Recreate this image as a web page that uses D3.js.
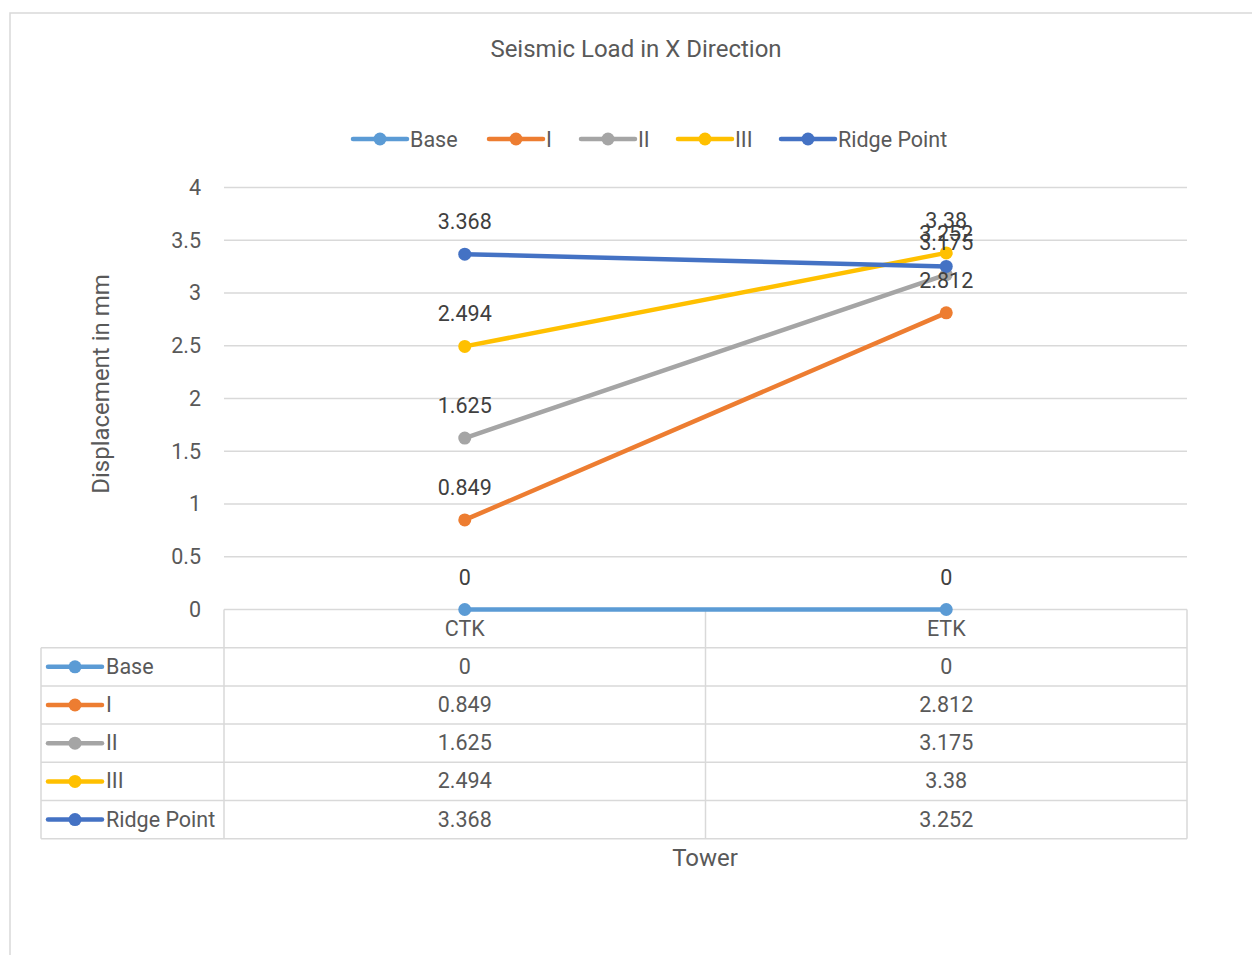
<!DOCTYPE html>
<html><head><meta charset="utf-8">
<script src="https://cdn.jsdelivr.net/npm/d3@7"></script>
<style>
body{margin:0;background:#fff;}
text{font-family:Roboto,"Liberation Sans",sans-serif;}
</style></head>
<body>
<svg id="c" width="1252" height="955"></svg>
<script>
const categories = ["CTK", "ETK"];
const seriesNames = ["Base", "I", "II", "III", "Ridge Point"];
const baseVals = [0, 0];
const iVals = [0.849, 2.812];
const iiVals = [1.625, 3.175];
const iiiVals = [2.494, 3.38];
const ridgeVals = [3.368, 3.252];
const colors = ["#5B9BD5", "#ED7D31", "#A5A5A5", "#FFC000", "#4472C4"];
const yTicks = [0, 0.5, 1, 1.5, 2, 2.5, 3, 3.5, 4];
const titleText = "Seismic Load in X Direction";
const yTitle = "Displacement in mm";
const xTitle = "Tower";

const series = [baseVals, iVals, iiVals, iiiVals, ridgeVals].map((v, i) => ({name: seriesNames[i], values: v, color: colors[i]}));

const svg = d3.select("#c");
const textCol = "#595959";
const gridCol = "#D9D9D9";
const fs = 21.5;
const fsT = 24;

// outer border
svg.append("rect").attr("x", 10).attr("y", 13).attr("width", 1300).attr("height", 1000)
  .attr("fill", "none").attr("stroke", "#D9D9D9").attr("stroke-width", 1.5);

const pLeft = 224, pRight = 1187, pTop = 187.5, pBottom = 609.5;
const x = d3.scaleBand().domain(categories).range([pLeft, pRight]);
const y = d3.scaleLinear().domain([0, 4]).range([pBottom, pTop]);
const cx = c => x(c) + x.bandwidth() / 2;

// title
svg.append("text").attr("x", 636).attr("y", 57).attr("text-anchor", "middle")
  .attr("font-size", fsT).attr("fill", textCol).text(titleText);

// gridlines
svg.append("g").selectAll("line").data(yTicks.filter(t => t > 0)).join("line")
  .attr("x1", pLeft).attr("x2", pRight).attr("y1", d => y(d)).attr("y2", d => y(d))
  .attr("stroke", gridCol).attr("stroke-width", 1.5);

// y axis labels
const yAxis = d3.axisLeft(y).tickValues(yTicks).tickSize(0).tickPadding(23).tickFormat(d3.format("~g"));
const ya = svg.append("g").attr("transform", `translate(${pLeft},0)`).call(yAxis);
ya.select(".domain").remove();
ya.attr("font-family", null);
ya.selectAll("text").attr("font-size", fs).attr("fill", textCol);

// y title
svg.append("text").attr("transform", "translate(109,384) rotate(-90)").attr("text-anchor", "middle")
  .attr("font-size", fsT).attr("fill", textCol).text(yTitle);

// data table
const rowH = 38.2;
const tableTop = pBottom, tableLeft = 41;
const tg = svg.append("g").attr("stroke", gridCol).attr("stroke-width", 1.5).attr("fill", "none");
tg.append("line").attr("x1", pLeft).attr("x2", pRight).attr("y1", tableTop).attr("y2", tableTop);
tg.append("line").attr("x1", pLeft).attr("x2", pLeft).attr("y1", tableTop).attr("y2", tableTop + rowH * 6);
tg.append("line").attr("x1", pRight).attr("x2", pRight).attr("y1", tableTop).attr("y2", tableTop + rowH * 6);
tg.append("line").attr("x1", x("ETK")).attr("x2", x("ETK")).attr("y1", tableTop).attr("y2", tableTop + rowH * 6);
tg.append("line").attr("x1", tableLeft).attr("x2", tableLeft).attr("y1", tableTop + rowH).attr("y2", tableTop + rowH * 6);
d3.range(1, 7).forEach(i => {
  tg.append("line").attr("x1", tableLeft).attr("x2", pRight).attr("y1", tableTop + rowH * i).attr("y2", tableTop + rowH * i);
});
svg.append("g").selectAll("text").data(categories).join("text")
  .attr("x", d => cx(d)).attr("y", tableTop + rowH / 2 + 7).attr("text-anchor", "middle")
  .attr("font-size", fs).attr("fill", textCol).text(d => d);
series.forEach((s, i) => {
  const rc = tableTop + rowH * (i + 1) + rowH / 2;
  const g = svg.append("g");
  g.append("line").attr("x1", 48).attr("x2", 102).attr("y1", rc).attr("y2", rc)
    .attr("stroke", s.color).attr("stroke-width", 4.5).attr("stroke-linecap", "round");
  g.append("circle").attr("cx", 75).attr("cy", rc).attr("r", 6.5).attr("fill", s.color);
  g.append("text").attr("x", 106).attr("y", rc + 7).attr("font-size", fs).attr("fill", textCol).text(s.name);
  g.selectAll("text.v").data(s.values).join("text").attr("class", "v")
    .attr("x", (d, j) => cx(categories[j])).attr("y", rc + 7).attr("text-anchor", "middle")
    .attr("font-size", fs).attr("fill", textCol).text(d => d3.format("~g")(d));
});

// x title
svg.append("text").attr("x", 705).attr("y", 866).attr("text-anchor", "middle")
  .attr("font-size", fsT).attr("fill", textCol).text(xTitle);

// lines
const line = d3.line().x((d, j) => cx(categories[j])).y(d => y(d));
series.forEach(s => {
  svg.append("path").datum(s.values).attr("d", line).attr("fill", "none")
    .attr("stroke", s.color).attr("stroke-width", 4.5).attr("stroke-linecap", "round");
  svg.append("g").selectAll("circle").data(s.values).join("circle")
    .attr("cx", (d, j) => cx(categories[j])).attr("cy", d => y(d)).attr("r", 6.5).attr("fill", s.color);
});
// data labels
series.forEach(s => {
  svg.append("g").selectAll("text").data(s.values).join("text")
    .attr("x", (d, j) => cx(categories[j])).attr("y", d => y(d) - 25).attr("text-anchor", "middle")
    .attr("font-size", fs).attr("fill", "#404040").text(d => d3.format("~g")(d));
});

// legend
const legX = [352, 488, 580, 677, 780];
series.forEach((s, i) => {
  const g = svg.append("g").attr("transform", `translate(${legX[i]},139)`);
  g.append("line").attr("x1", 1).attr("x2", 55).attr("y1", 0).attr("y2", 0)
    .attr("stroke", s.color).attr("stroke-width", 4.5).attr("stroke-linecap", "round");
  g.append("circle").attr("cx", 28).attr("cy", 0).attr("r", 6.5).attr("fill", s.color);
  g.append("text").attr("x", 58).attr("y", 7.5).attr("font-size", fs).attr("fill", textCol).text(s.name);
});
</script>
</body></html>
